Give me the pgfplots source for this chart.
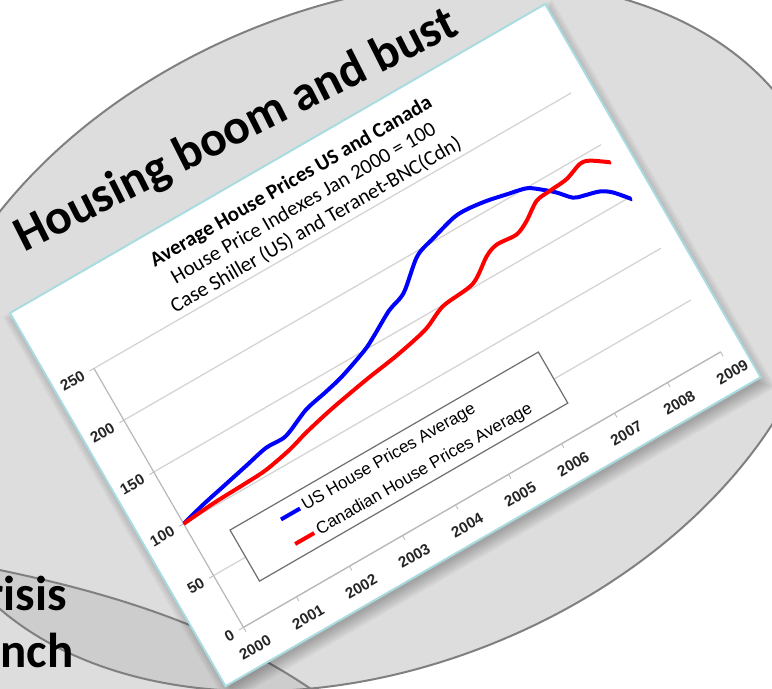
\documentclass[border=0pt]{standalone}
\usepackage{pgfplots}
\pgfplotsset{compat=1.18}
\usepackage{fontspec}
\setmainfont{Carlito}
\newfontfamily\arialfont{Liberation Sans}

\definecolor{bgA}{HTML}{DDDDDD}
\definecolor{bgAB}{HTML}{CDCDCD}
\definecolor{rimgray}{HTML}{808080}
\definecolor{framecyan}{HTML}{A9DCE0}
\definecolor{gridgray}{HTML}{D2D2D2}
\definecolor{axisgray}{HTML}{B8B8B8}
\definecolor{legendgray}{HTML}{6E6E6E}

\begin{document}
\begin{tikzpicture}[x=0.5pt,y=0.5pt]
\useasboundingbox (0,0) rectangle (772,-689);
\clip (0,0) rectangle (772,-689);
\fill[white] (0,0) rectangle (772,-689);

% background shapes
\fill[bgA, rotate around={22.5:(373,-336)}] (373,-336) ellipse [x radius=476, y radius=330];
\fill[bgA] (-20,-566) .. controls (100,-590) and (230,-625) .. (340,-710) -- (340,-760) -- (-40,-760) -- cycle;
\begin{scope}
  \clip[rotate around={22.5:(373,-336)}] (373,-336) ellipse [x radius=476, y radius=330];
  \fill[bgAB] (-20,-566) .. controls (100,-590) and (230,-625) .. (340,-710) -- (340,-760) -- (-40,-760) -- cycle;
\end{scope}
\draw[rimgray, line width=1pt] (-20,-566) .. controls (100,-590) and (230,-625) .. (340,-710);
\draw[rimgray, line width=1pt, rotate around={22.5:(373,-336)}] (373,-336) ellipse [x radius=476, y radius=330];

\node[anchor=base east, inner sep=0pt, font=\bfseries\fontsize{24.5}{28}\selectfont] at (67,-611) {Crisis};
\node[anchor=base east, inner sep=0pt, font=\bfseries\fontsize{24.5}{28}\selectfont] at (74,-668) {Launch};
\node[anchor=base west, inner sep=0pt, rotate=26.7, font=\bfseries\fontsize{24.8}{28}\selectfont] at (24,-253) {Housing boom and bust};

% soft shadow of the chart card
\begin{scope}[shift={(14,-320)}, rotate=30]
  \foreach \r in {0,2,...,12} {
    \fill[black, opacity=0.04] (-\r+4,\r-4) rectangle (618+\r-4,-431-\r+4);
  }
\end{scope}

\begin{scope}[shift={(10,-313)}, rotate=30, transform shape]
  \filldraw[fill=white, draw=framecyan, line width=1pt] (0,0) rectangle (618,-431);

  \node[anchor=base, inner sep=0pt, font=\bfseries\fontsize{10.5}{12}\selectfont] at (309,-33) {Average House Prices US and Canada};
  \node[anchor=base, inner sep=0pt, font=\fontsize{10.5}{12}\selectfont] at (309,-58) {House Price Indexes Jan 2000 = 100};
  \node[anchor=base, inner sep=0pt, font=\fontsize{10.5}{12}\selectfont] at (309,-83) {Case Shiller (US) and Teranet-BNC(Cdn)};

  \begin{axis}[
    at={(22.5pt,-194.5pt)}, anchor=south west,
    width=275.5pt, height=149.5pt, scale only axis,
    xmin=2000, xmax=2009, ymin=0, ymax=250,
    axis x line=bottom, axis y line=left,
    axis line style={draw=axisgray, line width=0.6pt, -},
    xtick={2000,...,2009}, minor x tick num=11,
    ytick={0,50,...,250},
    tick align=outside,
    major tick length=2.5pt, minor tick length=2pt,
    tick style={draw=axisgray, line width=0.4pt},
    ymajorgrids, major grid style={draw=gridgray, line width=0.6pt},
    /pgf/number format/1000 sep={},
    /pgf/number format/assume math mode=true,
    ticklabel style={font=\arialfont\bfseries\fontsize{7.6}{9}\selectfont, text=black!85},
    xticklabel style={yshift=-3pt},
    legend style={at={(axis cs:2001.373,50.6)}, anchor=west, draw=none, fill=none,
      inner sep=0pt, row sep=6.5pt, font=\arialfont\fontsize{8.5}{10}\selectfont,
      nodes={inner xsep=1pt, inner ysep=0pt}},
    legend cell align=left,
    legend image code/.code={\draw[#1] (0pt,0pt) -- (11pt,0pt);},
  ]
    \filldraw[fill=white, draw=legendgray, line width=0.6pt] (axis cs:2000.605,76.1) rectangle (axis cs:2006.42,26.8);

    \addplot[blue, line width=2pt, smooth] coordinates {
      (2000.00,100.0) (2000.42,105.6) (2000.85,110.3) (2001.37,116.0)
      (2001.79,120.6) (2002.16,120.8) (2002.66,131.4) (2003.08,136.0)
      (2003.45,140.6) (2003.98,150.1) (2004.23,156.6) (2004.65,168.6)
      (2005.00,175.3) (2005.49,196.1) (2005.87,202.5) (2006.32,208.8)
      (2006.58,209.3) (2006.93,207.1) (2007.26,203.5) (2007.59,199.6)
      (2007.77,193.3) (2007.98,184.0) (2008.17,173.4) (2008.33,170.5)
      (2008.60,166.7) (2008.78,160.4) (2009.00,147.2)
    };
    \addlegendentry{US House Prices Average}

    \addplot[red, line width=2pt, smooth] coordinates {
      (2000.00,100.0) (2000.60,102.4) (2001.23,103.5) (2001.61,104.6)
      (2002.10,109.3) (2002.49,115.0) (2003.03,121.3) (2003.76,128.0)
      (2004.39,132.8) (2005.00,139.5) (2005.45,149.2)
      (2006.05,152.9) (2006.47,167.0) (2006.71,171.3) (2007.07,170.3)
      (2007.32,175.8) (2007.63,186.3) (2007.90,188.0) (2008.23,189.5)
      (2008.54,194.9) (2008.71,193.2) (2009.00,182.9)
    };
    \addlegendentry{Canadian House Prices Average}
  \end{axis}
\end{scope}
\end{tikzpicture}
\end{document}
